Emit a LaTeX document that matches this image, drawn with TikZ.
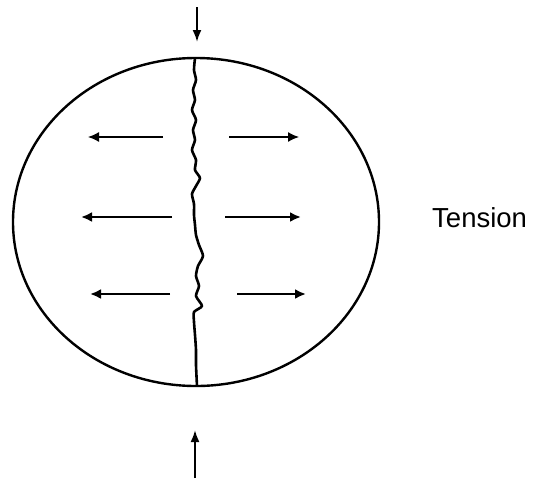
\documentclass[tikz,border=0pt]{standalone}
\usepackage{fontspec}
\setmainfont{Liberation Sans}
\usetikzlibrary{arrows.meta}

\begin{document}
\begin{tikzpicture}[x=1pt, y=-1pt,
  force/.style={-{Latex[length=11pt, width=10pt]}, line width=2.6pt, black},
  thinforce/.style={force, line width=1.3pt},
  load/.style={-{Latex[length=12pt, width=9pt]}, line width=2pt, black},
  label/.style={font=\fontsize{27.5}{30}\selectfont, inner sep=0pt, anchor=west}
]
\useasboundingbox (0,0) rectangle (543,482);
% specimen
\draw[line width=2.4pt] (196,222) ellipse [x radius=183, y radius=164];
% crack
\draw[line width=2.6pt, line join=round] plot[smooth, tension=0.4] coordinates {
  (195,58) (194,70) (196,80) (193,90) (195,100) (192,110) (196,120)
  (193,130) (195,140) (192,150) (196,160) (195,170) (200,178) (196,186)
  (192,194) (194,204) (194,215) (195,225) (196,235) (199,245) (203,256)
  (198,266) (196,276) (199,286) (196,296) (202,306) (194,312) (194,322)
  (195,335) (196,350) (196,365) (197,386)};
% applied load
\draw[load] (197,7) -- (197,42);
\draw[load] (195,478) -- (195,430);
% tensile stresses
\draw[thinforce] (163,137) -- (88,137);
\draw[thinforce] (229,137) -- (299,137);
\draw[force] (172,217) -- (81,217);
\draw[force] (225,217) -- (301,217);
\draw[force] (170,294) -- (90,294);
\draw[force] (237,294) -- (306,294);
\node[label] (tension) at (432,218) {Tension};
\end{tikzpicture}
\end{document}
